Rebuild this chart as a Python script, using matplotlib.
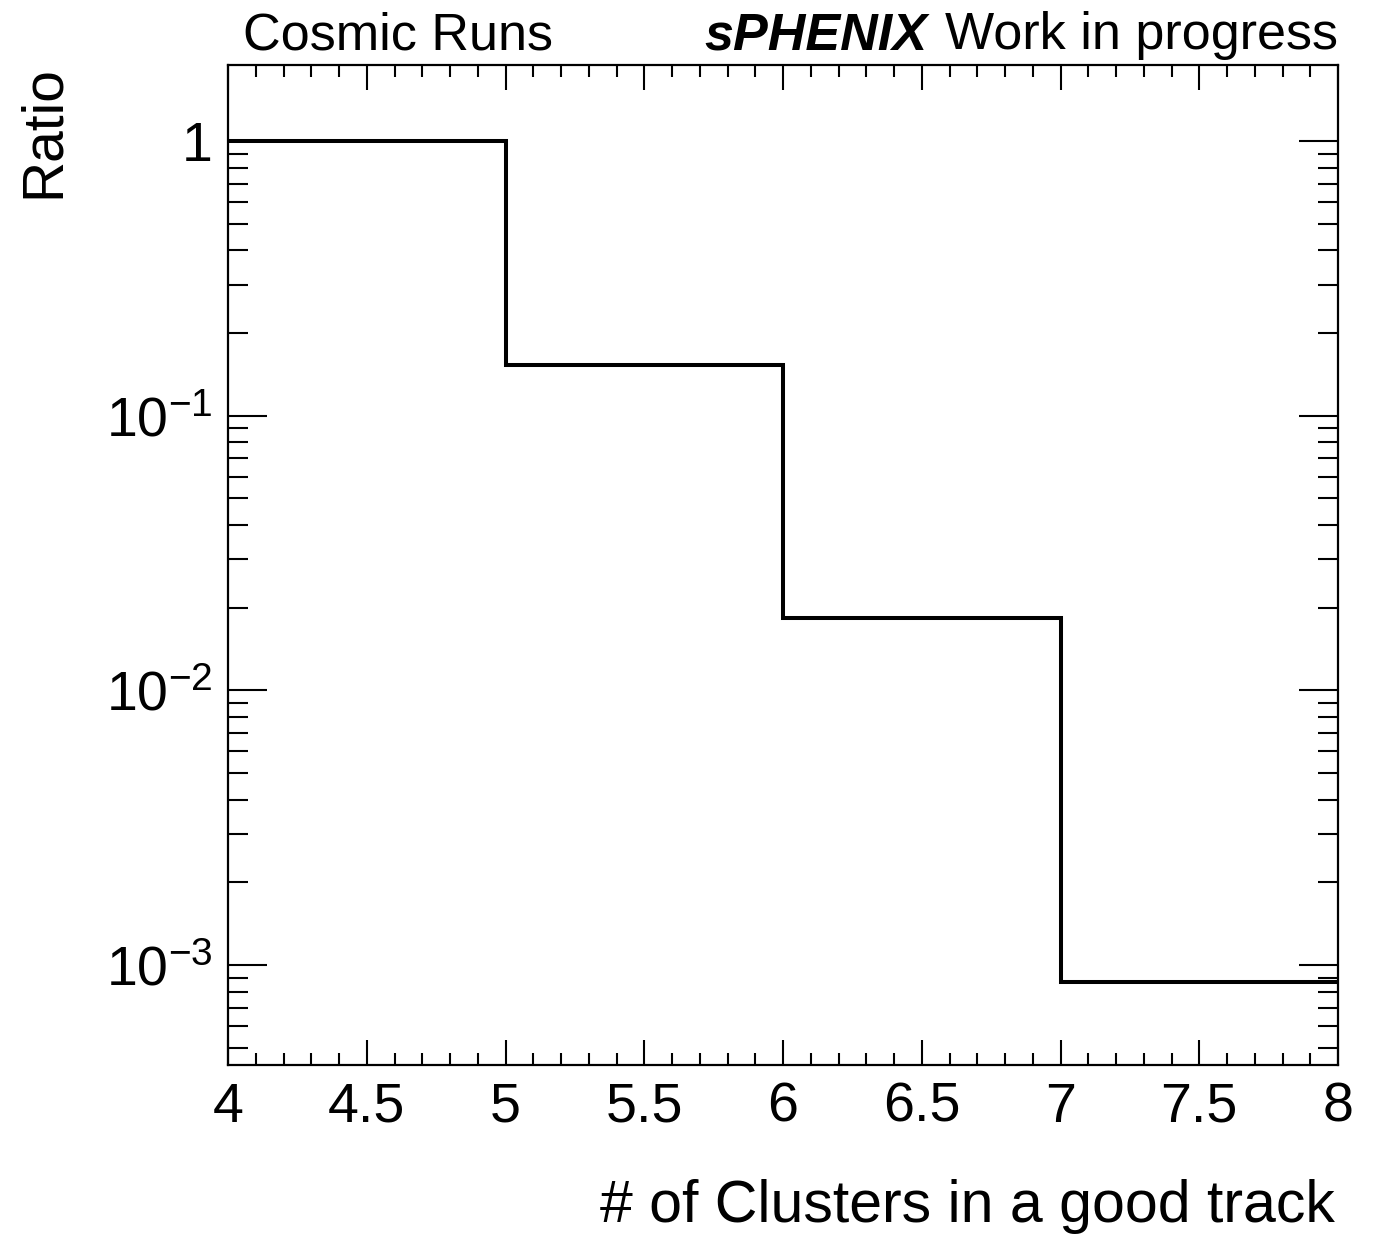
import matplotlib
matplotlib.use("Agg")
import matplotlib.pyplot as plt
from matplotlib.ticker import FixedLocator, MultipleLocator, LogLocator, NullFormatter, FixedFormatter
import numpy as np

# ---- data ----
bin_edges = [4, 5, 6, 7, 8]
ratio_values = [1.0, 0.153, 0.0184, 0.00087]
xtick_values = [4, 4.5, 5, 5.5, 6, 6.5, 7, 7.5, 8]
xtick_labels = ["4", "4.5", "5", "5.5", "6", "6.5", "7", "7.5", "8"]
ytick_values = [1e-3, 1e-2, 1e-1, 1]
ytick_labels = [r"$10^{-3}$", r"$10^{-2}$", r"$10^{-1}$", "1"]
x_title = "# of Clusters in a good track"
y_title = "Ratio"
left_text = "Cosmic Runs"
brand_text = "sPHENIX"
status_text = "Work in progress"

plt.rcParams["font.family"] = ["Liberation Sans", "DejaVu Sans"]
plt.rcParams["mathtext.fontset"] = "custom"
plt.rcParams["mathtext.rm"] = "Liberation Sans"
plt.rcParams["mathtext.it"] = "Liberation Sans:italic"
plt.rcParams["mathtext.bf"] = "Liberation Sans:bold"

W, H = 1384, 1234
DPI = 100
fig = plt.figure(figsize=(W / DPI, H / DPI), dpi=DPI)
fig.patch.set_facecolor("white")

L, R, B, T = 228, 1338, 1065, 65
ax = fig.add_axes([L / W, 1 - B / H, (R - L) / W, (B - T) / H])

ax.stairs(ratio_values, bin_edges, baseline=None, color="black", linewidth=2.9)

ax.set_yscale("log")
ax.set_xlim(4, 8)
ax.set_ylim(4.325e-4, 1.891)

ax.xaxis.set_major_locator(FixedLocator(xtick_values))
ax.xaxis.set_major_formatter(FixedFormatter(xtick_labels))
ax.xaxis.set_minor_locator(MultipleLocator(0.1))
ax.yaxis.set_major_locator(FixedLocator(ytick_values))
ax.yaxis.set_major_formatter(FixedFormatter(ytick_labels))
ax.yaxis.set_minor_locator(LogLocator(base=10, subs=np.arange(2, 10), numticks=20))
ax.yaxis.set_minor_formatter(NullFormatter())

for s in ax.spines.values():
    s.set_linewidth(1.6)

ax.tick_params(axis="both", which="both", direction="in", top=True, right=True,
               width=1.5, colors="black")
ax.tick_params(axis="x", which="major", length=18, labelsize=40, pad=12)
ax.tick_params(axis="x", which="minor", length=8.6)
ax.tick_params(axis="y", which="major", length=28, labelsize=40, pad=11)
ax.tick_params(axis="y", which="minor", length=14.4)

# axis titles
fig.text(1335 / W, 1 - 1222 / H, x_title, ha="right", va="baseline", fontsize=42.5)
fig.text(59 / W, 1 - 65 / H, y_title, rotation=90, rotation_mode="anchor",
         ha="right", va="baseline", fontsize=41)

# top texts
fig.text(243 / W, 1 - 49 / H, left_text, ha="left", va="baseline", fontsize=37.5)
t_status = fig.text(1338 / W, 1 - 49 / H, status_text, ha="right", va="baseline", fontsize=37.5)
fig.canvas.draw()
bb = t_status.get_window_extent(renderer=fig.canvas.get_renderer())
fig.text((bb.x0 - 18) / W, 1 - 49 / H, brand_text, ha="right", va="baseline",
         fontsize=37.5, fontweight="bold", fontstyle="italic")

fig.savefig("out.png", dpi=DPI)
